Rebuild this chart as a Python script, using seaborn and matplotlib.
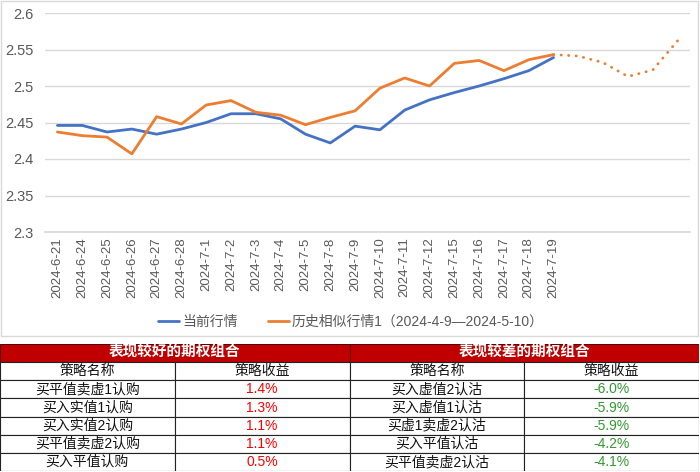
import matplotlib
matplotlib.use("Agg")
import matplotlib.pyplot as plt
import seaborn as sns
import pandas as pd
import numpy as np
from matplotlib.patches import Rectangle

# Data
dates = ['2024-6-21', '2024-6-24', '2024-6-25', '2024-6-26', '2024-6-27', '2024-6-28',
         '2024-7-1', '2024-7-2', '2024-7-3', '2024-7-4', '2024-7-5', '2024-7-8',
         '2024-7-9', '2024-7-10', '2024-7-11', '2024-7-12', '2024-7-15', '2024-7-16',
         '2024-7-17', '2024-7-18', '2024-7-19']
n_blank = 5
current = [2.446, 2.446, 2.437, 2.441, 2.434, 2.441, 2.450, 2.462, 2.462, 2.455, 2.434,
           2.422, 2.445, 2.440, 2.467, 2.481, 2.491, 2.500, 2.510, 2.521, 2.539]
history = [2.437, 2.432, 2.430, 2.407, 2.458, 2.448, 2.474, 2.480, 2.464, 2.460, 2.447,
           2.457, 2.466, 2.497, 2.511, 2.500, 2.531, 2.535, 2.521, 2.536, 2.543]
history_ext = [2.541, 2.532, 2.513, 2.522, 2.562]

good_names = ['买平值卖虚1认购', '买入实值1认购', '买入实值2认购', '买平值卖虚2认购', '买入平值认购']
good_ret = ['1.4%', '1.3%', '1.1%', '1.1%', '0.5%']
bad_names = ['买入虚值2认沽', '买入虚值1认沽', '买虚1卖虚2认沽', '买入平值认沽', '买平值卖虚2认沽']
bad_ret = ['-6.0%', '-5.9%', '-5.9%', '-4.2%', '-4.1%']

sns.set_theme(style="white")
plt.rcParams['font.family'] = ['Liberation Sans', 'Noto Sans CJK SC', 'DejaVu Sans']

blue = '#4472C4'
orange = '#ED7D31'
grid_c = '#D9D9D9'
txt_c = '#595959'

fig = plt.figure(figsize=(7, 4.72), dpi=100)
W, H = 700, 472
ax = fig.add_axes([45 / W, 1 - 232 / H, (690 - 45) / W, (232 - 13) / H])

labels = dates + [''] * n_blank
df = pd.DataFrame({'x': np.arange(len(dates)), 'current': current, 'history': history})
ext = pd.DataFrame({'x': np.arange(len(dates) - 1, len(labels)),
                    'y': [history[-1]] + history_ext})

sns.lineplot(data=df, x='x', y='current', color=blue, lw=2, ax=ax, label='当前行情')
sns.lineplot(data=df, x='x', y='history', color=orange, lw=2, ax=ax,
             label='历史相似行情1（2024-4-9—2024-5-10）')
sns.lineplot(data=ext, x='x', y='y', color=orange, lw=2, ax=ax,
             linestyle=(0, (0.1, 2.6)), dash_capstyle='round')

ax.set_xlim(-0.5, len(labels) - 0.5)
ax.set_ylim(2.3, 2.6)
yt = np.round(np.arange(2.3, 2.601, 0.05), 2)
ax.set_yticks(yt)
ax.set_yticklabels([f'{v:g}' for v in yt])
ax.yaxis.grid(True, color=grid_c, lw=1)
ax.set_axisbelow(True)
ax.set_xticks(np.arange(len(labels)))
ax.set_xticklabels(labels, rotation=90)
ax.set_xticks(np.arange(-0.5, len(labels), 1), minor=True)
ax.tick_params(axis='x', which='major', length=0, pad=4, labelsize=9.5, colors=txt_c)
ax.tick_params(axis='x', which='minor', length=4, width=1, color=grid_c)
ax.tick_params(axis='y', length=0, pad=8, labelsize=10.5, colors=txt_c)
for s in ['left', 'right', 'top']:
    ax.spines[s].set_visible(False)
ax.spines['bottom'].set_color(grid_c)
ax.set_xlabel('')
ax.set_ylabel('')

handles, lbls = ax.get_legend_handles_labels()
ax.get_legend().remove()
fig.legend(handles[:2], lbls[:2], loc='center', bbox_to_anchor=(351 / W, 1 - 322 / H),
           ncol=2, frameon=False, fontsize=10, handlelength=1.5, handletextpad=0.2,
           columnspacing=2.2, labelcolor=txt_c)

# chart border
fig.add_artist(Rectangle((0.5 / W, 1 - 336 / H), 697 / W, 335 / H, transform=fig.transFigure,
                         fill=False, ec=grid_c, lw=1))

# table
tax = fig.add_axes([0, 1 - 471 / H, 699 / W, 127 / H])
n_rows = 2 + len(good_names)
tax.set_xlim(0, 4)
tax.set_ylim(n_rows, 0)
tax.axis('off')

headers = ['表现较好的期权组合', '表现较差的期权组合']
for i, h in enumerate(headers):
    tax.add_patch(Rectangle((2 * i, 0), 2, 1, fc='#C00000', ec='#600000', lw=0.8))
    tax.text(2 * i + 1, 0.5, h, ha='center', va='center', color='white',
             fontsize=10.5, fontweight='bold')

cols = [['策略名称'] + good_names, ['策略收益'] + good_ret,
        ['策略名称'] + bad_names, ['策略收益'] + bad_ret]
for c, col in enumerate(cols):
    for r, val in enumerate(col):
        tax.add_patch(Rectangle((c, r + 1), 1, 1, fc='white', ec='#222222', lw=0.8))
        color = '#111111'
        if r > 0 and c == 1:
            color = '#FF0000'
        elif r > 0 and c == 3:
            color = '#339933'
        tax.text(c + 0.5, r + 1.5, val, ha='center', va='center', color=color, fontsize=10)

fig.savefig('out.png', dpi=100)
